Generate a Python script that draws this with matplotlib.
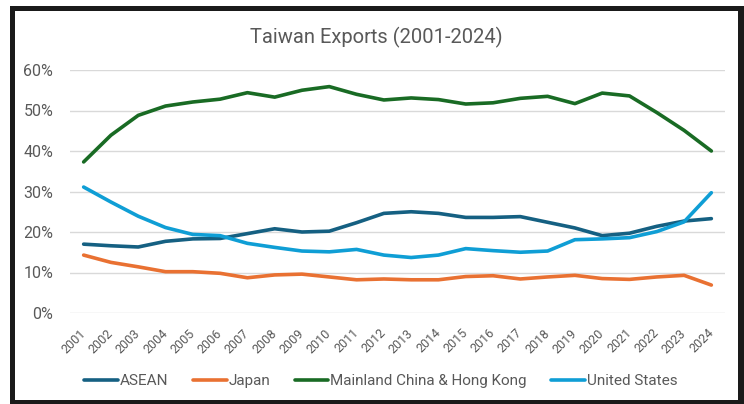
import matplotlib
matplotlib.use("Agg")
import matplotlib.pyplot as plt
from matplotlib.patches import Rectangle
from matplotlib.ticker import PercentFormatter

years = [str(y) for y in range(2001, 2025)]

asean = [17.0, 16.6, 16.3, 17.7, 18.3, 18.4, 19.6, 20.8, 20.0, 20.2, 22.3, 24.6,
         25.0, 24.6, 23.6, 23.6, 23.8, 22.4, 21.0, 19.1, 19.7, 21.4, 22.7, 23.3]
japan = [14.3, 12.5, 11.4, 10.2, 10.2, 9.8, 8.7, 9.4, 9.6, 8.9, 8.2, 8.4,
         8.2, 8.2, 9.0, 9.2, 8.4, 8.9, 9.3, 8.5, 8.3, 8.9, 9.3, 6.9]
china_hk = [37.3, 43.9, 48.8, 51.1, 52.1, 52.8, 54.4, 53.3, 55.0, 55.9, 54.0, 52.6,
            53.1, 52.7, 51.6, 51.9, 53.0, 53.5, 51.7, 54.3, 53.6, 49.5, 45.1, 40.0]
united_states = [31.1, 27.4, 23.9, 21.1, 19.4, 19.1, 17.2, 16.2, 15.3, 15.1, 15.7, 14.3,
                 13.7, 14.3, 15.9, 15.4, 15.0, 15.3, 18.1, 18.3, 18.6, 20.1, 22.5, 29.7]

series_names = ["ASEAN", "Japan", "Mainland China & Hong Kong", "United States"]
series_colors = ["#156082", "#E97132", "#196B24", "#0F9ED5"]

plt.rcParams["font.family"] = ["Roboto", "DejaVu Sans"]

W, H = 744, 404
fig = plt.figure(figsize=(W / 100, H / 100), dpi=100)

# black frame around the chart
fig.patches.append(Rectangle((10 / W, 0), 734 / W, (H - 6) / H, transform=fig.transFigure,
                             facecolor="#1a1a1a", edgecolor="none", zorder=-10))
fig.patches.append(Rectangle((15 / W, 4 / H), 723 / W, (H - 15) / H, transform=fig.transFigure,
                             facecolor="white", edgecolor="none", zorder=-9))

ax = fig.add_axes([70 / W, 1 - 313 / H, 655 / W, 243 / H])
ax.set_facecolor("none")
ax.set_zorder(5)

x = list(range(len(years)))
for vals, name, col in zip([asean, japan, china_hk, united_states], series_names, series_colors):
    ax.plot(x, vals, color=col, lw=2.6, label=name, solid_capstyle="round", solid_joinstyle="round")

ax.set_xlim(-0.5, len(years) - 0.5)
ax.set_ylim(0, 60)
ax.set_yticks(range(0, 61, 10))
ax.yaxis.set_major_formatter(PercentFormatter(decimals=0))
ax.grid(axis="y", color="#D9D9D9", lw=1)
ax.set_axisbelow(True)
for s in ax.spines.values():
    s.set_visible(False)
ax.tick_params(length=0, colors="#595959")
ax.tick_params(axis="y", labelsize=11.5, pad=12)
ax.set_xticks(x)
ax.set_xticklabels(years, rotation=45, ha="right", va="center", rotation_mode="anchor", fontsize=9)
ax.tick_params(axis="x", pad=13)

fig.text(376 / W, 1 - 37 / H, "Taiwan Exports (2001-2024)", ha="center", va="center",
         fontsize=14.5, color="#595959", zorder=6)

leg = fig.legend(loc="center", bbox_to_anchor=(381 / W, 1 - 381 / H), ncol=4, frameon=False,
                 fontsize=11, handlelength=2.2, handletextpad=0.13, columnspacing=1.6)
leg.set_zorder(6)
for t in leg.get_texts():
    t.set_color("#595959")

fig.savefig("out.png", dpi=100)
